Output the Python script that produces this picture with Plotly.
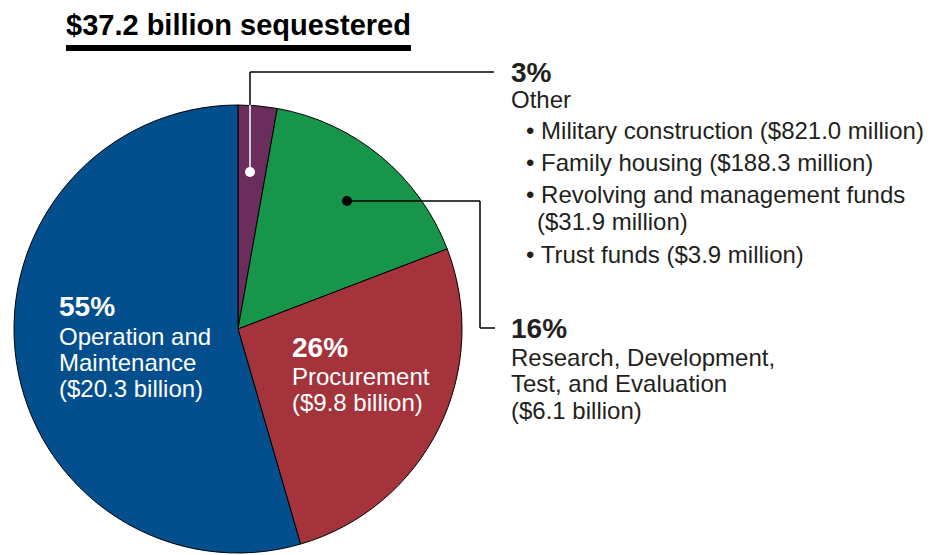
import plotly.graph_objects as go

# ---- data ----
categories = ["Other", "Research, Development, Test, and Evaluation", "Procurement", "Operation and Maintenance"]
values_billion = [1.0451, 6.1, 9.8, 20.3]
colors = ["#6B2D5C", "#17954A", "#A5333B", "#034F8E"]
other_items = ["Military construction ($821.0 million)", "Family housing ($188.3 million)",
               "Revolving and management funds", "($31.9 million)", "Trust funds ($3.9 million)"]
title_text = "$37.2 billion sequestered"

W, H = 939, 555
FONT = "Liberation Sans, Arial, sans-serif"
OFF = 8  # page body margin
total = sum(values_billion)
pct = [f"{round(v / total * 100)}%" for v in values_billion]


def px(x):
    return (x - OFF) / W


def py(y):
    return 1 - (y - OFF) / H


cx, cy, r = 238, 329, 224

fig = go.Figure(go.Pie(
    labels=categories, values=values_billion, sort=False, direction="clockwise", rotation=0,
    marker=dict(colors=colors, line=dict(color="black", width=1)),
    textinfo="none", hoverinfo="label+value+percent", showlegend=False,
    domain=dict(x=[px(cx - r), px(cx + r)], y=[py(cy + r), py(cy - r)]),
))

ann = []
REG = 24
PCT = 28


def text(x, y, s, size=REG, bold=False, color="#231f20"):
    ann.append(dict(x=px(x), y=py(y), xref="paper", yref="paper", xanchor="left", yanchor="middle",
                    text=f"<b>{s}</b>" if bold else s, showarrow=False,
                    font=dict(family=FONT, size=size, color=color)))


# title
ann.append(dict(x=px(238), y=py(25), xref="paper", yref="paper", xanchor="center", yanchor="middle",
                text=f"<b>{title_text}</b>", showarrow=False, borderpad=0,
                font=dict(family=FONT, size=29, color="black")))

# Other block
text(509, 72, pct[0], PCT, True)
text(509, 99, "Other")
bullet_y = [131, 162, 194, 221, 254]
for s, y in zip(other_items, bullet_y):
    if s.startswith("("):
        text(535, y, s)
    else:
        text(524, y, "• " + s)

# RDT&E block
text(509, 328, pct[1], PCT, True)
for s, y in zip(["Research, Development,", "Test, and Evaluation", f"(${values_billion[1]:.1f} billion)"], [357, 383, 410]):
    text(509, y, s)

# Procurement block (inside)
text(290, 347, pct[2], PCT, True, "white")
for s, y in zip(["Procurement", f"(${values_billion[2]:.1f} billion)"], [376, 403]):
    text(290, y, s, color="white")

# O&M block (inside)
text(57, 306, pct[3], PCT, True, "white")
for s, y in zip(["Operation and", "Maintenance", f"(${values_billion[3]:.1f} billion)"], [336, 362, 388]):
    text(57, y, s, color="white")

shapes = []
# title underline
shapes.append(dict(type="rect", xref="paper", yref="paper", x0=px(66), x1=px(411), y0=py(51), y1=py(45),
                   fillcolor="black", line=dict(width=0)))


def line(x0, y0, x1, y1, color="black", w=1.5):
    shapes.append(dict(type="line", xref="paper", yref="paper", x0=px(x0), y0=py(y0), x1=px(x1), y1=py(y1),
                       line=dict(color=color, width=w)))


def dot(x, y, color, rr=5):
    shapes.append(dict(type="circle", xref="paper", yref="paper", x0=px(x - rr), x1=px(x + rr),
                       y0=py(y + rr), y1=py(y - rr), fillcolor=color, line=dict(width=0)))


# Other leader
line(250, 172, 250, 105, "white")
line(250, 105, 250, 72)
line(250, 72, 494, 72)
dot(250, 172, "white")
# RDT&E leader
line(347, 201, 480, 201)
line(480, 201, 480, 328)
line(480, 328, 495, 328)
dot(347, 201, "black")

fig.update_layout(width=W, height=H, margin=dict(l=0, r=0, t=0, b=0),
                  paper_bgcolor="white", plot_bgcolor="white",
                  annotations=ann, shapes=shapes)
fig.write_html("out.html")
